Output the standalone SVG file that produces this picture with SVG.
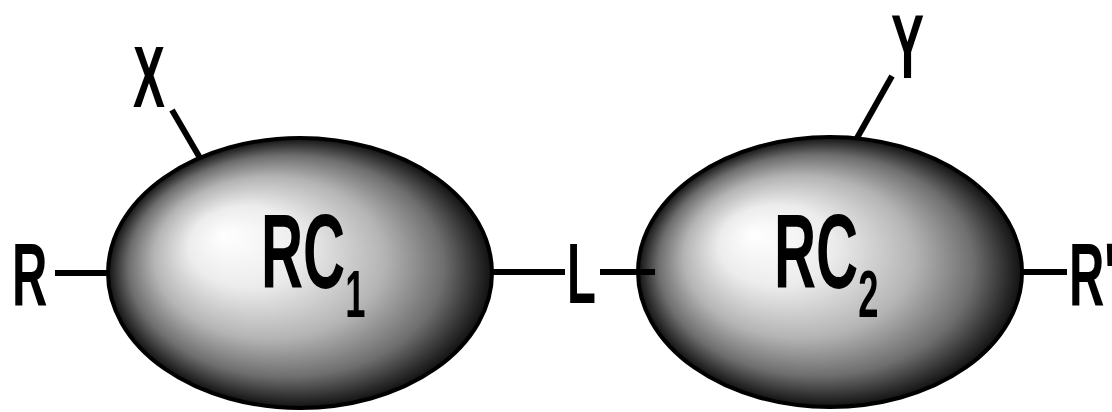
<svg xmlns="http://www.w3.org/2000/svg" width="1112" height="412" viewBox="0 0 1112 412">
<defs>
<radialGradient id="shade" cx="0.5" cy="0.5" r="0.5" fx="0.3" fy="0.36">
<stop offset="0" stop-color="#ffffff"/>
<stop offset="0.3" stop-color="#ececec"/>
<stop offset="0.6" stop-color="#b4b4b4"/>
<stop offset="0.82" stop-color="#6e6e6e"/>
<stop offset="0.95" stop-color="#2a2a2a"/>
<stop offset="1" stop-color="#111111"/>
</radialGradient>
<style>
.ell{fill:url(#shade);stroke:#000;stroke-width:4}
.bond{stroke:#000;stroke-width:6;fill:none}
.lbl{font-family:"Liberation Sans",Arial,sans-serif;font-weight:bold;fill:#000}
</style>
</defs>
<rect width="1112" height="412" fill="#fff"/>
<g id="RC1">
<ellipse class="ell" cx="300" cy="273" rx="192" ry="135"/>
<text class="lbl" transform="translate(261,288) scale(0.55,1)" font-size="106">RC<tspan font-size="66" dy="29">1</tspan></text>
</g>
<g id="RC2">
<ellipse class="ell" cx="830" cy="272" rx="192" ry="135"/>
<text class="lbl" transform="translate(774,288) scale(0.55,1)" font-size="106">RC<tspan font-size="66" dy="29">2</tspan></text>
</g>
<g id="connectors">
<line class="bond" x1="55" y1="273" x2="109" y2="273"/>
<line class="bond" x1="172" y1="110" x2="200" y2="158"/>
<line class="bond" x1="492" y1="272" x2="565" y2="272"/>
<line class="bond" x1="600" y1="272" x2="655" y2="272"/>
<line class="bond" x1="892" y1="76" x2="857" y2="138"/>
<line class="bond" x1="1022" y1="272" x2="1067" y2="272"/>
</g>
<g id="R"><text class="lbl" transform="translate(12,305) scale(0.55,1)" font-size="89">R</text></g>
<g id="X"><text class="lbl" transform="translate(133,107) scale(0.55,1)" font-size="87">X</text></g>
<g id="L"><text class="lbl" transform="translate(567,303) scale(0.55,1)" font-size="86">L</text></g>
<g id="Y"><text class="lbl" transform="translate(891,78) scale(0.55,1)" font-size="90">Y</text></g>
<g id="Rprime"><text class="lbl" transform="translate(1069,305) scale(0.55,1)" font-size="89">R'</text></g>
</svg>
